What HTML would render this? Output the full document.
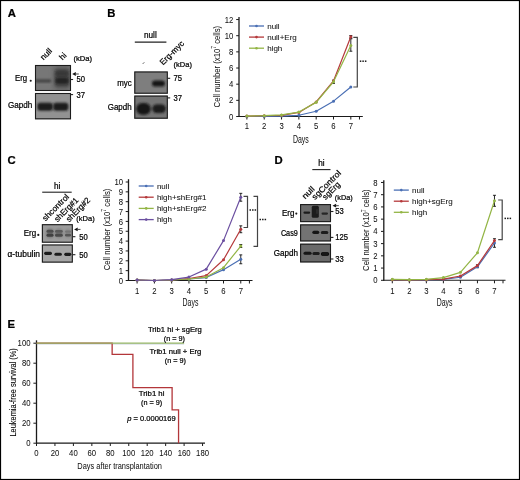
<!DOCTYPE html>
<html><head><meta charset="utf-8"><style>
html,body{margin:0;padding:0;background:#fff;width:520px;height:480px;overflow:hidden}
svg{display:block;font-family:"Liberation Sans", sans-serif;opacity:0.999}
text{stroke:#000;stroke-width:0.22px}
</style></head><body>
<svg width="520" height="480" viewBox="0 0 520 480" font-family='"Liberation Sans", sans-serif'>
<defs><filter id="f50" x="-50%" y="-50%" width="200%" height="200%"><feGaussianBlur stdDeviation="0.5"/></filter><filter id="f55" x="-50%" y="-50%" width="200%" height="200%"><feGaussianBlur stdDeviation="0.55"/></filter><filter id="f60" x="-50%" y="-50%" width="200%" height="200%"><feGaussianBlur stdDeviation="0.6"/></filter><filter id="f70" x="-50%" y="-50%" width="200%" height="200%"><feGaussianBlur stdDeviation="0.7"/></filter><filter id="f80" x="-50%" y="-50%" width="200%" height="200%"><feGaussianBlur stdDeviation="0.8"/></filter><filter id="f90" x="-50%" y="-50%" width="200%" height="200%"><feGaussianBlur stdDeviation="0.9"/></filter><filter id="f100" x="-50%" y="-50%" width="200%" height="200%"><feGaussianBlur stdDeviation="1"/></filter><filter id="f110" x="-50%" y="-50%" width="200%" height="200%"><feGaussianBlur stdDeviation="1.1"/></filter><filter id="f120" x="-50%" y="-50%" width="200%" height="200%"><feGaussianBlur stdDeviation="1.2"/></filter><filter id="f130" x="-50%" y="-50%" width="200%" height="200%"><feGaussianBlur stdDeviation="1.3"/></filter><filter id="f140" x="-50%" y="-50%" width="200%" height="200%"><feGaussianBlur stdDeviation="1.4"/></filter><filter id="f160" x="-50%" y="-50%" width="200%" height="200%"><feGaussianBlur stdDeviation="1.6"/></filter><filter id="f250" x="-50%" y="-50%" width="200%" height="200%"><feGaussianBlur stdDeviation="2.5"/></filter></defs>
<rect x="0" y="0" width="520" height="480" fill="#fff"/>
<rect x="0.5" y="0.5" width="519" height="479" fill="none" stroke="#000" stroke-width="1.2"/>
<text x="7.80" y="17.20" font-size="11.3" text-anchor="start" fill="#000" font-weight="bold">A</text>
<text x="107.30" y="17.10" font-size="11.3" text-anchor="start" fill="#000" font-weight="bold">B</text>
<text x="7.60" y="164.30" font-size="11.3" text-anchor="start" fill="#000" font-weight="bold">C</text>
<text x="274.60" y="163.60" font-size="11.3" text-anchor="start" fill="#000" font-weight="bold">D</text>
<text x="7.60" y="327.90" font-size="11.3" text-anchor="start" fill="#000" font-weight="bold">E</text>
<clipPath id="c1"><rect x="35" y="65" width="36" height="26"/></clipPath>
<rect x="35" y="65" width="36" height="26" fill="#777777"/>
<g clip-path="url(#c1)">
<rect x="35" y="79.2" width="16.50" height="3.20" rx="1.60" fill="#444" filter="url(#f90)"/>
<rect x="54" y="67" width="16.00" height="22.00" rx="3.00" fill="#5a5a5a" filter="url(#f250)"/>
<rect x="55" y="69.5" width="14.00" height="17.00" rx="2.50" fill="#424242" filter="url(#f160)"/>
<rect x="56" y="71.5" width="12.00" height="4.50" rx="2.00" fill="#343434" filter="url(#f140)"/>
<rect x="55.5" y="78.2" width="13.00" height="5.20" rx="2.00" fill="#222" filter="url(#f110)"/>
</g>
<rect x="35.5" y="65.5" width="35" height="25" fill="none" stroke="#1c1c1c" stroke-width="1.1"/>
<clipPath id="c2"><rect x="35" y="93" width="36" height="26.299999999999997"/></clipPath>
<rect x="35" y="93" width="36" height="26.299999999999997" fill="#929292"/>
<g clip-path="url(#c2)">
<rect x="37.4" y="102.8" width="15.40" height="8.00" rx="2.80" fill="#1e1e1e" filter="url(#f80)"/>
<rect x="53.2" y="102.8" width="15.10" height="8.00" rx="2.80" fill="#1e1e1e" filter="url(#f80)"/>
</g>
<rect x="35.5" y="93.5" width="35" height="25.299999999999997" fill="none" stroke="#1c1c1c" stroke-width="1.1"/>
<text x="15.00" y="81.10" font-size="8.2" text-anchor="start" fill="#000" textLength="12.2" lengthAdjust="spacingAndGlyphs">Erg</text>
<circle cx="30.70" cy="80.80" r="1.05" fill="#1a1a1a"/>
<text x="8.00" y="108.20" font-size="8.2" text-anchor="start" fill="#000" textLength="24.3" lengthAdjust="spacingAndGlyphs">Gapdh</text>
<text x="43.50" y="60.60" font-size="8.2" text-anchor="start" fill="#000" transform="rotate(-45 43.50 60.60)">null</text>
<text x="62.60" y="60.40" font-size="8.2" text-anchor="start" fill="#000" transform="rotate(-45 62.60 60.40)">hi</text>
<text x="73.40" y="61.10" font-size="7.9" text-anchor="start" fill="#000" textLength="18.7" lengthAdjust="spacingAndGlyphs">(kDa)</text>
<path d="M72.20,74.00 L75.80,72.10 L75.80,75.90 Z" fill="#111"/>
<line x1="75.20" y1="74.00" x2="78.80" y2="74.00" stroke="#444" stroke-width="1.0"/>
<line x1="70.70" y1="79.50" x2="73.10" y2="79.50" stroke="#222" stroke-width="1.1"/>
<text x="0" y="0" font-size="8.4" fill="#000" transform="translate(76.50 82.45) scale(0.91 1)">50</text>
<line x1="70.70" y1="94.60" x2="73.10" y2="94.60" stroke="#222" stroke-width="1.1"/>
<text x="0" y="0" font-size="8.4" fill="#000" transform="translate(76.50 97.55) scale(0.91 1)">37</text>
<text x="150.40" y="37.70" font-size="8.2" text-anchor="middle" fill="#000">null</text>
<line x1="134.80" y1="42.10" x2="166.40" y2="42.10" stroke="#222" stroke-width="1.1"/>
<line x1="142.80" y1="63.80" x2="144.20" y2="62.40" stroke="#333" stroke-width="0.9"/>
<text x="163.00" y="65.60" font-size="8.2" text-anchor="start" fill="#000" textLength="30.5" lengthAdjust="spacingAndGlyphs" transform="rotate(-45 163.00 65.60)">Erg-myc</text>
<text x="173.60" y="67.00" font-size="7.9" text-anchor="start" fill="#000" textLength="18.4" lengthAdjust="spacingAndGlyphs">(kDa)</text>
<clipPath id="c3"><rect x="134.3" y="71.5" width="33.5" height="22.200000000000003"/></clipPath>
<rect x="134.3" y="71.5" width="33.5" height="22.200000000000003" fill="#7e7e7e"/>
<g clip-path="url(#c3)">
<rect x="152" y="80.4" width="13.00" height="6.20" rx="3.10" fill="#161616" filter="url(#f80)"/>
</g>
<rect x="134.8" y="72.0" width="32.5" height="21.200000000000003" fill="none" stroke="#1c1c1c" stroke-width="1.1"/>
<clipPath id="c4"><rect x="134.3" y="95.6" width="33.5" height="23.10000000000001"/></clipPath>
<rect x="134.3" y="95.6" width="33.5" height="23.10000000000001" fill="#747474"/>
<g clip-path="url(#c4)">
<rect x="136.2" y="102.9" width="14.60" height="11.80" rx="5.90" fill="#161616" filter="url(#f120)"/>
<rect x="152.3" y="104.6" width="13.50" height="8.40" rx="4.20" fill="#1a1a1a" filter="url(#f100)"/>
</g>
<rect x="134.8" y="96.1" width="32.5" height="22.10000000000001" fill="none" stroke="#1c1c1c" stroke-width="1.1"/>
<text x="117.30" y="86.40" font-size="8.2" text-anchor="start" fill="#000" textLength="14.4" lengthAdjust="spacingAndGlyphs">myc</text>
<text x="107.70" y="110.40" font-size="8.2" text-anchor="start" fill="#000" textLength="24.0" lengthAdjust="spacingAndGlyphs">Gapdh</text>
<line x1="167.80" y1="78.30" x2="170.20" y2="78.30" stroke="#222" stroke-width="1.1"/>
<text x="0" y="0" font-size="8.4" fill="#000" transform="translate(173.50 81.25) scale(0.91 1)">75</text>
<line x1="167.80" y1="97.90" x2="170.20" y2="97.90" stroke="#222" stroke-width="1.1"/>
<text x="0" y="0" font-size="8.4" fill="#000" transform="translate(173.50 100.85) scale(0.91 1)">37</text>
<line x1="239.00" y1="16.90" x2="239.00" y2="117.00" stroke="#1a1a1a" stroke-width="1.3"/>
<line x1="238.40" y1="116.50" x2="362.80" y2="116.50" stroke="#1a1a1a" stroke-width="1.1"/>
<line x1="236.20" y1="116.50" x2="239.00" y2="116.50" stroke="#1a1a1a" stroke-width="1"/>
<text x="0" y="0" font-size="9.1" text-anchor="end" fill="#111" style="stroke-width:0.04px" transform="translate(233.30 119.60) scale(0.85 1)">0</text>
<line x1="236.20" y1="100.34" x2="239.00" y2="100.34" stroke="#1a1a1a" stroke-width="1"/>
<text x="0" y="0" font-size="9.1" text-anchor="end" fill="#111" style="stroke-width:0.04px" transform="translate(233.30 103.44) scale(0.85 1)">2</text>
<line x1="236.20" y1="84.18" x2="239.00" y2="84.18" stroke="#1a1a1a" stroke-width="1"/>
<text x="0" y="0" font-size="9.1" text-anchor="end" fill="#111" style="stroke-width:0.04px" transform="translate(233.30 87.28) scale(0.85 1)">4</text>
<line x1="236.20" y1="68.02" x2="239.00" y2="68.02" stroke="#1a1a1a" stroke-width="1"/>
<text x="0" y="0" font-size="9.1" text-anchor="end" fill="#111" style="stroke-width:0.04px" transform="translate(233.30 71.12) scale(0.85 1)">6</text>
<line x1="236.20" y1="51.86" x2="239.00" y2="51.86" stroke="#1a1a1a" stroke-width="1"/>
<text x="0" y="0" font-size="9.1" text-anchor="end" fill="#111" style="stroke-width:0.04px" transform="translate(233.30 54.96) scale(0.85 1)">8</text>
<line x1="236.20" y1="35.70" x2="239.00" y2="35.70" stroke="#1a1a1a" stroke-width="1"/>
<text x="0" y="0" font-size="9.1" text-anchor="end" fill="#111" style="stroke-width:0.04px" transform="translate(233.30 38.80) scale(0.85 1)">10</text>
<line x1="236.20" y1="19.54" x2="239.00" y2="19.54" stroke="#1a1a1a" stroke-width="1"/>
<text x="0" y="0" font-size="9.1" text-anchor="end" fill="#111" style="stroke-width:0.04px" transform="translate(233.30 22.64) scale(0.85 1)">12</text>
<line x1="246.90" y1="116.50" x2="246.90" y2="119.50" stroke="#1a1a1a" stroke-width="1"/>
<text x="0" y="0" font-size="9.1" text-anchor="middle" fill="#111" style="stroke-width:0.04px" transform="translate(246.90 129.30) scale(0.85 1)">1</text>
<line x1="264.22" y1="116.50" x2="264.22" y2="119.50" stroke="#1a1a1a" stroke-width="1"/>
<text x="0" y="0" font-size="9.1" text-anchor="middle" fill="#111" style="stroke-width:0.04px" transform="translate(264.22 129.30) scale(0.85 1)">2</text>
<line x1="281.54" y1="116.50" x2="281.54" y2="119.50" stroke="#1a1a1a" stroke-width="1"/>
<text x="0" y="0" font-size="9.1" text-anchor="middle" fill="#111" style="stroke-width:0.04px" transform="translate(281.54 129.30) scale(0.85 1)">3</text>
<line x1="298.86" y1="116.50" x2="298.86" y2="119.50" stroke="#1a1a1a" stroke-width="1"/>
<text x="0" y="0" font-size="9.1" text-anchor="middle" fill="#111" style="stroke-width:0.04px" transform="translate(298.86 129.30) scale(0.85 1)">4</text>
<line x1="316.18" y1="116.50" x2="316.18" y2="119.50" stroke="#1a1a1a" stroke-width="1"/>
<text x="0" y="0" font-size="9.1" text-anchor="middle" fill="#111" style="stroke-width:0.04px" transform="translate(316.18 129.30) scale(0.85 1)">5</text>
<line x1="333.50" y1="116.50" x2="333.50" y2="119.50" stroke="#1a1a1a" stroke-width="1"/>
<text x="0" y="0" font-size="9.1" text-anchor="middle" fill="#111" style="stroke-width:0.04px" transform="translate(333.50 129.30) scale(0.85 1)">6</text>
<line x1="350.82" y1="116.50" x2="350.82" y2="119.50" stroke="#1a1a1a" stroke-width="1"/>
<text x="0" y="0" font-size="9.1" text-anchor="middle" fill="#111" style="stroke-width:0.04px" transform="translate(350.82 129.30) scale(0.85 1)">7</text>
<line x1="359.48" y1="116.50" x2="359.48" y2="119.50" stroke="#1a1a1a" stroke-width="1"/>
<text x="300.90" y="142.50" font-size="10.2" text-anchor="middle" fill="#111" textLength="15.8" lengthAdjust="spacingAndGlyphs" style="stroke-width:0.03px">Days</text>
<text x="220.10" y="66.60" font-size="9.9" text-anchor="middle" fill="#111" style="stroke-width:0.03px" transform="rotate(-90 220.10 66.60)" textLength="81.6" lengthAdjust="spacingAndGlyphs">Cell number (x10<tspan font-size="6.6" dy="-3.8">7</tspan><tspan dy="3.8"> cells)</tspan></text>
<line x1="350.82" y1="35.54" x2="350.82" y2="37.96" stroke="#111" stroke-width="0.9"/>
<line x1="349.32" y1="35.54" x2="352.32" y2="35.54" stroke="#111" stroke-width="0.9"/>
<line x1="349.32" y1="37.96" x2="352.32" y2="37.96" stroke="#111" stroke-width="0.9"/>
<line x1="350.82" y1="38.77" x2="350.82" y2="51.21" stroke="#111" stroke-width="0.9"/>
<line x1="349.32" y1="38.77" x2="352.32" y2="38.77" stroke="#111" stroke-width="0.9"/>
<line x1="349.32" y1="51.21" x2="352.32" y2="51.21" stroke="#111" stroke-width="0.9"/>
<line x1="333.50" y1="80.14" x2="333.50" y2="83.37" stroke="#111" stroke-width="0.9"/>
<line x1="332.00" y1="80.14" x2="335.00" y2="80.14" stroke="#111" stroke-width="0.9"/>
<line x1="332.00" y1="83.37" x2="335.00" y2="83.37" stroke="#111" stroke-width="0.9"/>
<polyline points="246.90,116.50 264.22,116.50 281.54,116.10 298.86,115.29 316.18,111.25 333.50,101.15 350.82,87.01" fill="none" stroke="#4a6fb4" stroke-width="1.2" stroke-linejoin="round"/>
<circle cx="246.90" cy="116.50" r="1.5" fill="#4a6fb4"/>
<circle cx="264.22" cy="116.50" r="1.5" fill="#4a6fb4"/>
<circle cx="281.54" cy="116.10" r="1.5" fill="#4a6fb4"/>
<circle cx="298.86" cy="115.29" r="1.5" fill="#4a6fb4"/>
<circle cx="316.18" cy="111.25" r="1.5" fill="#4a6fb4"/>
<circle cx="333.50" cy="101.15" r="1.5" fill="#4a6fb4"/>
<circle cx="350.82" cy="87.01" r="1.5" fill="#4a6fb4"/>
<polyline points="246.90,116.10 264.22,115.69 281.54,115.29 298.86,112.46 316.18,101.96 333.50,80.95 350.82,36.75" fill="none" stroke="#b5393b" stroke-width="1.2" stroke-linejoin="round"/>
<circle cx="246.90" cy="116.10" r="1.5" fill="#b5393b"/>
<circle cx="264.22" cy="115.69" r="1.5" fill="#b5393b"/>
<circle cx="281.54" cy="115.29" r="1.5" fill="#b5393b"/>
<circle cx="298.86" cy="112.46" r="1.5" fill="#b5393b"/>
<circle cx="316.18" cy="101.96" r="1.5" fill="#b5393b"/>
<circle cx="333.50" cy="80.95" r="1.5" fill="#b5393b"/>
<circle cx="350.82" cy="36.75" r="1.5" fill="#b5393b"/>
<polyline points="246.90,116.10 264.22,115.69 281.54,114.88 298.86,112.06 316.18,102.36 333.50,81.76 350.82,45.40" fill="none" stroke="#93b545" stroke-width="1.2" stroke-linejoin="round"/>
<circle cx="246.90" cy="116.10" r="1.5" fill="#93b545"/>
<circle cx="264.22" cy="115.69" r="1.5" fill="#93b545"/>
<circle cx="281.54" cy="114.88" r="1.5" fill="#93b545"/>
<circle cx="298.86" cy="112.06" r="1.5" fill="#93b545"/>
<circle cx="316.18" cy="102.36" r="1.5" fill="#93b545"/>
<circle cx="333.50" cy="81.76" r="1.5" fill="#93b545"/>
<circle cx="350.82" cy="45.40" r="1.5" fill="#93b545"/>
<line x1="249.00" y1="26.00" x2="264.00" y2="26.00" stroke="#4a6fb4" stroke-width="1.3"/>
<circle cx="256.50" cy="26.00" r="1.3" fill="#4a6fb4"/>
<text x="267.20" y="28.70" font-size="8" text-anchor="start" fill="#111" style="stroke-width:0.05px">null</text>
<line x1="249.00" y1="37.10" x2="264.00" y2="37.10" stroke="#b5393b" stroke-width="1.3"/>
<circle cx="256.50" cy="37.10" r="1.3" fill="#b5393b"/>
<text x="267.20" y="39.80" font-size="8" text-anchor="start" fill="#111" style="stroke-width:0.05px">null+Erg</text>
<line x1="249.00" y1="48.20" x2="264.00" y2="48.20" stroke="#93b545" stroke-width="1.3"/>
<circle cx="256.50" cy="48.20" r="1.3" fill="#93b545"/>
<text x="267.20" y="50.90" font-size="8" text-anchor="start" fill="#111" style="stroke-width:0.05px">high</text>
<polyline points="353.30,37.40 357.30,37.40 357.30,87.00 353.30,87.00" fill="none" stroke="#444" stroke-width="1.2"/>
<rect x="359.80" y="60.45" width="1.5" height="1.5" fill="#1a1a1a"/>
<rect x="362.35" y="60.45" width="1.5" height="1.5" fill="#1a1a1a"/>
<rect x="364.90" y="60.45" width="1.5" height="1.5" fill="#1a1a1a"/>
<text x="57.20" y="189.40" font-size="8.2" text-anchor="middle" fill="#000">hi</text>
<line x1="42.20" y1="192.20" x2="71.70" y2="192.20" stroke="#222" stroke-width="1.1"/>
<text x="45.50" y="221.40" font-size="8.2" text-anchor="start" fill="#000" textLength="34" lengthAdjust="spacingAndGlyphs" transform="rotate(-45 45.50 221.40)">shcontrol</text>
<text x="57.40" y="222.40" font-size="8.2" text-anchor="start" fill="#000" textLength="30.5" lengthAdjust="spacingAndGlyphs" transform="rotate(-45 57.40 222.40)">shErg#1</text>
<text x="69.20" y="222.40" font-size="8.2" text-anchor="start" fill="#000" textLength="30.5" lengthAdjust="spacingAndGlyphs" transform="rotate(-45 69.20 222.40)">shErg#2</text>
<text x="76.30" y="221.30" font-size="7.9" text-anchor="start" fill="#000" textLength="18.5" lengthAdjust="spacingAndGlyphs">(kDa)</text>
<clipPath id="c5"><rect x="41.9" y="224.2" width="30.9" height="18.5"/></clipPath>
<rect x="41.9" y="224.2" width="30.9" height="18.5" fill="#9c9c9c"/>
<g clip-path="url(#c5)">
<rect x="46" y="228.3" width="8.00" height="10.00" rx="4.00" fill="#7e7e7e" filter="url(#f130)"/>
<rect x="54.5" y="228.3" width="8.80" height="10.00" rx="4.40" fill="#848484" filter="url(#f130)"/>
<rect x="64.5" y="228.8" width="7.00" height="9.50" rx="3.50" fill="#8c8c8c" filter="url(#f130)"/>
<rect x="46.5" y="229.8" width="7.00" height="3.00" rx="1.50" fill="#4e4e4e" filter="url(#f70)"/>
<rect x="46.5" y="233.6" width="7.00" height="3.20" rx="1.60" fill="#404040" filter="url(#f70)"/>
<rect x="55" y="230" width="7.80" height="2.80" rx="1.40" fill="#5a5a5a" filter="url(#f70)"/>
<rect x="55" y="233.6" width="7.80" height="3.20" rx="1.60" fill="#4a4a4a" filter="url(#f70)"/>
<rect x="65" y="230.4" width="6.00" height="2.40" rx="1.20" fill="#757575" filter="url(#f70)"/>
<rect x="65" y="233.8" width="6.00" height="2.80" rx="1.40" fill="#555" filter="url(#f70)"/>
</g>
<rect x="42.4" y="224.7" width="29.9" height="17.5" fill="none" stroke="#1c1c1c" stroke-width="1.1"/>
<clipPath id="c6"><rect x="41.9" y="244.5" width="30.9" height="18.100000000000023"/></clipPath>
<rect x="41.9" y="244.5" width="30.9" height="18.100000000000023" fill="#a6a6a6"/>
<g clip-path="url(#c6)">
<rect x="44.1" y="251.7" width="7.90" height="3.20" rx="1.60" fill="#1a1a1a" filter="url(#f55)"/>
<rect x="54.4" y="252.7" width="7.50" height="3.00" rx="1.50" fill="#1e1e1e" filter="url(#f55)"/>
<rect x="64.2" y="252.7" width="7.10" height="3.20" rx="1.60" fill="#1a1a1a" filter="url(#f55)"/>
</g>
<rect x="42.4" y="245.0" width="29.9" height="17.100000000000023" fill="none" stroke="#1c1c1c" stroke-width="1.1"/>
<text x="23.70" y="236.10" font-size="8.2" text-anchor="start" fill="#000" textLength="12.4" lengthAdjust="spacingAndGlyphs">Erg</text>
<circle cx="38.30" cy="234.90" r="1.1" fill="#1a1a1a"/>
<text x="7.50" y="257.20" font-size="8.2" text-anchor="start" fill="#000" textLength="32.5" lengthAdjust="spacingAndGlyphs">α-tubulin</text>
<path d="M74.10,229.40 L77.70,227.50 L77.70,231.30 Z" fill="#111"/>
<line x1="77.10" y1="229.40" x2="80.50" y2="229.40" stroke="#444" stroke-width="1.0"/>
<line x1="73.00" y1="236.70" x2="75.40" y2="236.70" stroke="#222" stroke-width="1.1"/>
<text x="0" y="0" font-size="8.4" fill="#000" transform="translate(79.30 239.65) scale(0.91 1)">50</text>
<line x1="73.00" y1="254.70" x2="75.40" y2="254.70" stroke="#222" stroke-width="1.1"/>
<text x="0" y="0" font-size="8.4" fill="#000" transform="translate(79.30 257.65) scale(0.91 1)">50</text>
<line x1="128.50" y1="179.20" x2="128.50" y2="281.00" stroke="#1a1a1a" stroke-width="1.3"/>
<line x1="127.90" y1="280.50" x2="252.50" y2="280.50" stroke="#1a1a1a" stroke-width="1.1"/>
<line x1="125.70" y1="280.50" x2="128.50" y2="280.50" stroke="#1a1a1a" stroke-width="1"/>
<text x="0" y="0" font-size="9.1" text-anchor="end" fill="#111" style="stroke-width:0.04px" transform="translate(123.10 283.60) scale(0.85 1)">0</text>
<line x1="125.70" y1="270.65" x2="128.50" y2="270.65" stroke="#1a1a1a" stroke-width="1"/>
<text x="0" y="0" font-size="9.1" text-anchor="end" fill="#111" style="stroke-width:0.04px" transform="translate(123.10 273.75) scale(0.85 1)">1</text>
<line x1="125.70" y1="260.80" x2="128.50" y2="260.80" stroke="#1a1a1a" stroke-width="1"/>
<text x="0" y="0" font-size="9.1" text-anchor="end" fill="#111" style="stroke-width:0.04px" transform="translate(123.10 263.90) scale(0.85 1)">2</text>
<line x1="125.70" y1="250.95" x2="128.50" y2="250.95" stroke="#1a1a1a" stroke-width="1"/>
<text x="0" y="0" font-size="9.1" text-anchor="end" fill="#111" style="stroke-width:0.04px" transform="translate(123.10 254.05) scale(0.85 1)">3</text>
<line x1="125.70" y1="241.10" x2="128.50" y2="241.10" stroke="#1a1a1a" stroke-width="1"/>
<text x="0" y="0" font-size="9.1" text-anchor="end" fill="#111" style="stroke-width:0.04px" transform="translate(123.10 244.20) scale(0.85 1)">4</text>
<line x1="125.70" y1="231.25" x2="128.50" y2="231.25" stroke="#1a1a1a" stroke-width="1"/>
<text x="0" y="0" font-size="9.1" text-anchor="end" fill="#111" style="stroke-width:0.04px" transform="translate(123.10 234.35) scale(0.85 1)">5</text>
<line x1="125.70" y1="221.40" x2="128.50" y2="221.40" stroke="#1a1a1a" stroke-width="1"/>
<text x="0" y="0" font-size="9.1" text-anchor="end" fill="#111" style="stroke-width:0.04px" transform="translate(123.10 224.50) scale(0.85 1)">6</text>
<line x1="125.70" y1="211.55" x2="128.50" y2="211.55" stroke="#1a1a1a" stroke-width="1"/>
<text x="0" y="0" font-size="9.1" text-anchor="end" fill="#111" style="stroke-width:0.04px" transform="translate(123.10 214.65) scale(0.85 1)">7</text>
<line x1="125.70" y1="201.70" x2="128.50" y2="201.70" stroke="#1a1a1a" stroke-width="1"/>
<text x="0" y="0" font-size="9.1" text-anchor="end" fill="#111" style="stroke-width:0.04px" transform="translate(123.10 204.80) scale(0.85 1)">8</text>
<line x1="125.70" y1="191.85" x2="128.50" y2="191.85" stroke="#1a1a1a" stroke-width="1"/>
<text x="0" y="0" font-size="9.1" text-anchor="end" fill="#111" style="stroke-width:0.04px" transform="translate(123.10 194.95) scale(0.85 1)">9</text>
<line x1="125.70" y1="182.00" x2="128.50" y2="182.00" stroke="#1a1a1a" stroke-width="1"/>
<text x="0" y="0" font-size="9.1" text-anchor="end" fill="#111" style="stroke-width:0.04px" transform="translate(123.10 185.10) scale(0.85 1)">10</text>
<line x1="137.10" y1="280.50" x2="137.10" y2="283.50" stroke="#1a1a1a" stroke-width="1"/>
<text x="0" y="0" font-size="9.1" text-anchor="middle" fill="#111" style="stroke-width:0.04px" transform="translate(137.10 293.80) scale(0.85 1)">1</text>
<line x1="154.38" y1="280.50" x2="154.38" y2="283.50" stroke="#1a1a1a" stroke-width="1"/>
<text x="0" y="0" font-size="9.1" text-anchor="middle" fill="#111" style="stroke-width:0.04px" transform="translate(154.38 293.80) scale(0.85 1)">2</text>
<line x1="171.66" y1="280.50" x2="171.66" y2="283.50" stroke="#1a1a1a" stroke-width="1"/>
<text x="0" y="0" font-size="9.1" text-anchor="middle" fill="#111" style="stroke-width:0.04px" transform="translate(171.66 293.80) scale(0.85 1)">3</text>
<line x1="188.94" y1="280.50" x2="188.94" y2="283.50" stroke="#1a1a1a" stroke-width="1"/>
<text x="0" y="0" font-size="9.1" text-anchor="middle" fill="#111" style="stroke-width:0.04px" transform="translate(188.94 293.80) scale(0.85 1)">4</text>
<line x1="206.22" y1="280.50" x2="206.22" y2="283.50" stroke="#1a1a1a" stroke-width="1"/>
<text x="0" y="0" font-size="9.1" text-anchor="middle" fill="#111" style="stroke-width:0.04px" transform="translate(206.22 293.80) scale(0.85 1)">5</text>
<line x1="223.50" y1="280.50" x2="223.50" y2="283.50" stroke="#1a1a1a" stroke-width="1"/>
<text x="0" y="0" font-size="9.1" text-anchor="middle" fill="#111" style="stroke-width:0.04px" transform="translate(223.50 293.80) scale(0.85 1)">6</text>
<line x1="240.78" y1="280.50" x2="240.78" y2="283.50" stroke="#1a1a1a" stroke-width="1"/>
<text x="0" y="0" font-size="9.1" text-anchor="middle" fill="#111" style="stroke-width:0.04px" transform="translate(240.78 293.80) scale(0.85 1)">7</text>
<line x1="249.42" y1="280.50" x2="249.42" y2="283.50" stroke="#1a1a1a" stroke-width="1"/>
<text x="190.50" y="305.60" font-size="10.2" text-anchor="middle" fill="#111" textLength="15.8" lengthAdjust="spacingAndGlyphs" style="stroke-width:0.03px">Days</text>
<text x="109.90" y="229.45" font-size="9.9" text-anchor="middle" fill="#111" style="stroke-width:0.03px" transform="rotate(-90 109.90 229.45)" textLength="81.5" lengthAdjust="spacingAndGlyphs">Cell number (x10<tspan font-size="6.6" dy="-3.8">7</tspan><tspan dy="3.8"> cells)</tspan></text>
<line x1="240.78" y1="193.33" x2="240.78" y2="201.21" stroke="#111" stroke-width="0.9"/>
<line x1="239.28" y1="193.33" x2="242.28" y2="193.33" stroke="#111" stroke-width="0.9"/>
<line x1="239.28" y1="201.21" x2="242.28" y2="201.21" stroke="#111" stroke-width="0.9"/>
<line x1="240.78" y1="225.83" x2="240.78" y2="232.73" stroke="#111" stroke-width="0.9"/>
<line x1="239.28" y1="225.83" x2="242.28" y2="225.83" stroke="#111" stroke-width="0.9"/>
<line x1="239.28" y1="232.73" x2="242.28" y2="232.73" stroke="#111" stroke-width="0.9"/>
<line x1="240.78" y1="244.55" x2="240.78" y2="247.50" stroke="#111" stroke-width="0.9"/>
<line x1="239.28" y1="244.55" x2="242.28" y2="244.55" stroke="#111" stroke-width="0.9"/>
<line x1="239.28" y1="247.50" x2="242.28" y2="247.50" stroke="#111" stroke-width="0.9"/>
<line x1="240.78" y1="254.89" x2="240.78" y2="263.75" stroke="#111" stroke-width="0.9"/>
<line x1="239.28" y1="254.89" x2="242.28" y2="254.89" stroke="#111" stroke-width="0.9"/>
<line x1="239.28" y1="263.75" x2="242.28" y2="263.75" stroke="#111" stroke-width="0.9"/>
<polyline points="137.10,280.01 154.38,280.50 171.66,280.01 188.94,279.02 206.22,277.55 223.50,269.67 240.78,259.32" fill="none" stroke="#4a6fb4" stroke-width="1.2" stroke-linejoin="round"/>
<circle cx="137.10" cy="280.01" r="1.5" fill="#4a6fb4"/>
<circle cx="154.38" cy="280.50" r="1.5" fill="#4a6fb4"/>
<circle cx="171.66" cy="280.01" r="1.5" fill="#4a6fb4"/>
<circle cx="188.94" cy="279.02" r="1.5" fill="#4a6fb4"/>
<circle cx="206.22" cy="277.55" r="1.5" fill="#4a6fb4"/>
<circle cx="223.50" cy="269.67" r="1.5" fill="#4a6fb4"/>
<circle cx="240.78" cy="259.32" r="1.5" fill="#4a6fb4"/>
<polyline points="137.10,280.01 154.38,280.50 171.66,280.01 188.94,278.53 206.22,275.57 223.50,259.81 240.78,229.28" fill="none" stroke="#b5393b" stroke-width="1.2" stroke-linejoin="round"/>
<circle cx="137.10" cy="280.01" r="1.5" fill="#b5393b"/>
<circle cx="154.38" cy="280.50" r="1.5" fill="#b5393b"/>
<circle cx="171.66" cy="280.01" r="1.5" fill="#b5393b"/>
<circle cx="188.94" cy="278.53" r="1.5" fill="#b5393b"/>
<circle cx="206.22" cy="275.57" r="1.5" fill="#b5393b"/>
<circle cx="223.50" cy="259.81" r="1.5" fill="#b5393b"/>
<circle cx="240.78" cy="229.28" r="1.5" fill="#b5393b"/>
<polyline points="137.10,280.01 154.38,280.50 171.66,280.01 188.94,279.02 206.22,277.05 223.50,267.69 240.78,246.03" fill="none" stroke="#93b545" stroke-width="1.2" stroke-linejoin="round"/>
<circle cx="137.10" cy="280.01" r="1.5" fill="#93b545"/>
<circle cx="154.38" cy="280.50" r="1.5" fill="#93b545"/>
<circle cx="171.66" cy="280.01" r="1.5" fill="#93b545"/>
<circle cx="188.94" cy="279.02" r="1.5" fill="#93b545"/>
<circle cx="206.22" cy="277.05" r="1.5" fill="#93b545"/>
<circle cx="223.50" cy="267.69" r="1.5" fill="#93b545"/>
<circle cx="240.78" cy="246.03" r="1.5" fill="#93b545"/>
<polyline points="137.10,280.01 154.38,280.50 171.66,279.71 188.94,277.05 206.22,269.17 223.50,240.61 240.78,197.27" fill="none" stroke="#6b4fa0" stroke-width="1.2" stroke-linejoin="round"/>
<circle cx="137.10" cy="280.01" r="1.5" fill="#6b4fa0"/>
<circle cx="154.38" cy="280.50" r="1.5" fill="#6b4fa0"/>
<circle cx="171.66" cy="279.71" r="1.5" fill="#6b4fa0"/>
<circle cx="188.94" cy="277.05" r="1.5" fill="#6b4fa0"/>
<circle cx="206.22" cy="269.17" r="1.5" fill="#6b4fa0"/>
<circle cx="223.50" cy="240.61" r="1.5" fill="#6b4fa0"/>
<circle cx="240.78" cy="197.27" r="1.5" fill="#6b4fa0"/>
<line x1="138.70" y1="186.00" x2="153.70" y2="186.00" stroke="#4a6fb4" stroke-width="1.3"/>
<circle cx="146.20" cy="186.00" r="1.3" fill="#4a6fb4"/>
<text x="156.90" y="188.70" font-size="8" text-anchor="start" fill="#111" style="stroke-width:0.05px">null</text>
<line x1="138.70" y1="197.20" x2="153.70" y2="197.20" stroke="#b5393b" stroke-width="1.3"/>
<circle cx="146.20" cy="197.20" r="1.3" fill="#b5393b"/>
<text x="156.90" y="199.90" font-size="8" text-anchor="start" fill="#111" style="stroke-width:0.05px">high+shErg#1</text>
<line x1="138.70" y1="208.40" x2="153.70" y2="208.40" stroke="#93b545" stroke-width="1.3"/>
<circle cx="146.20" cy="208.40" r="1.3" fill="#93b545"/>
<text x="156.90" y="211.10" font-size="8" text-anchor="start" fill="#111" style="stroke-width:0.05px">high+shErg#2</text>
<line x1="138.70" y1="219.60" x2="153.70" y2="219.60" stroke="#6b4fa0" stroke-width="1.3"/>
<circle cx="146.20" cy="219.60" r="1.3" fill="#6b4fa0"/>
<text x="156.90" y="222.30" font-size="8" text-anchor="start" fill="#111" style="stroke-width:0.05px">high</text>
<polyline points="243.50,196.30 247.50,196.30 247.50,227.50 243.50,227.50" fill="none" stroke="#444" stroke-width="1.2"/>
<rect x="249.50" y="209.25" width="1.5" height="1.5" fill="#1a1a1a"/>
<rect x="252.05" y="209.25" width="1.5" height="1.5" fill="#1a1a1a"/>
<rect x="254.60" y="209.25" width="1.5" height="1.5" fill="#1a1a1a"/>
<polyline points="253.50,196.30 257.50,196.30 257.50,246.30 253.50,246.30" fill="none" stroke="#444" stroke-width="1.2"/>
<rect x="259.50" y="218.75" width="1.5" height="1.5" fill="#1a1a1a"/>
<rect x="262.05" y="218.75" width="1.5" height="1.5" fill="#1a1a1a"/>
<rect x="264.60" y="218.75" width="1.5" height="1.5" fill="#1a1a1a"/>
<text x="321.50" y="165.80" font-size="8.2" text-anchor="middle" fill="#000">hi</text>
<line x1="312.30" y1="169.60" x2="330.50" y2="169.60" stroke="#222" stroke-width="1.1"/>
<text x="305.20" y="199.60" font-size="8.2" text-anchor="start" fill="#000" textLength="14.2" lengthAdjust="spacingAndGlyphs" transform="rotate(-45 305.20 199.60)">null</text>
<text x="315.10" y="200.20" font-size="8.2" text-anchor="start" fill="#000" textLength="37.5" lengthAdjust="spacingAndGlyphs" transform="rotate(-45 315.10 200.20)">sgControl</text>
<text x="325.50" y="200.20" font-size="8.2" text-anchor="start" fill="#000" textLength="21.5" lengthAdjust="spacingAndGlyphs" transform="rotate(-45 325.50 200.20)">sgErg</text>
<text x="334.80" y="199.70" font-size="7.9" text-anchor="start" fill="#000" textLength="17.9" lengthAdjust="spacingAndGlyphs">(kDa)</text>
<clipPath id="c7"><rect x="300.1" y="204.1" width="30.899999999999977" height="18.0"/></clipPath>
<rect x="300.1" y="204.1" width="30.899999999999977" height="18.0" fill="#6c6c6c"/>
<g clip-path="url(#c7)">
<rect x="303.5" y="211.4" width="6.70" height="2.40" rx="1.20" fill="#1e1e1e" filter="url(#f50)"/>
<rect x="311.8" y="205.8" width="7.00" height="12.00" rx="1.50" fill="#1c1c1c" filter="url(#f50)"/>
<rect x="316" y="209" width="2.50" height="5.00" rx="1.25" fill="#2a2a2a" filter="url(#f60)"/>
<rect x="321.5" y="212.5" width="6.50" height="2.20" rx="1.10" fill="#262626" filter="url(#f50)"/>
</g>
<rect x="300.6" y="204.6" width="29.899999999999977" height="17.0" fill="none" stroke="#1c1c1c" stroke-width="1.1"/>
<clipPath id="c8"><rect x="300.1" y="224.4" width="30.899999999999977" height="17.0"/></clipPath>
<rect x="300.1" y="224.4" width="30.899999999999977" height="17.0" fill="#737373"/>
<g clip-path="url(#c8)">
<rect x="312.3" y="230.8" width="7.00" height="3.10" rx="1.55" fill="#161616" filter="url(#f55)"/>
<rect x="320.8" y="231.1" width="7.50" height="3.00" rx="1.50" fill="#1c1c1c" filter="url(#f55)"/>
</g>
<rect x="300.6" y="224.9" width="29.899999999999977" height="16.0" fill="none" stroke="#1c1c1c" stroke-width="1.1"/>
<clipPath id="c9"><rect x="300.1" y="243.7" width="30.899999999999977" height="18.69999999999999"/></clipPath>
<rect x="300.1" y="243.7" width="30.899999999999977" height="18.69999999999999" fill="#6a6a6a"/>
<g clip-path="url(#c9)">
<rect x="303.5" y="251.7" width="8.10" height="3.00" rx="1.50" fill="#161616" filter="url(#f55)"/>
<rect x="312.5" y="252" width="7.20" height="3.00" rx="1.50" fill="#1a1a1a" filter="url(#f55)"/>
<rect x="320.8" y="251.9" width="8.40" height="4.20" rx="2.10" fill="#121212" filter="url(#f60)"/>
</g>
<rect x="300.6" y="244.2" width="29.899999999999977" height="17.69999999999999" fill="none" stroke="#1c1c1c" stroke-width="1.1"/>
<text x="281.90" y="215.60" font-size="8.2" text-anchor="start" fill="#000" textLength="12.5" lengthAdjust="spacingAndGlyphs">Erg</text>
<circle cx="296.30" cy="213.60" r="1.05" fill="#1a1a1a"/>
<text x="280.90" y="236.40" font-size="8.2" text-anchor="start" fill="#000" textLength="16.9" lengthAdjust="spacingAndGlyphs">Cas9</text>
<text x="273.80" y="255.90" font-size="8.2" text-anchor="start" fill="#000" textLength="24.3" lengthAdjust="spacingAndGlyphs">Gapdh</text>
<path d="M332.50,205.70 L336.10,203.80 L336.10,207.60 Z" fill="#111"/>
<line x1="335.50" y1="205.70" x2="338.80" y2="205.70" stroke="#444" stroke-width="1.0"/>
<line x1="331.00" y1="211.50" x2="333.40" y2="211.50" stroke="#222" stroke-width="1.1"/>
<text x="0" y="0" font-size="8.4" fill="#000" transform="translate(335.20 214.45) scale(0.91 1)">53</text>
<line x1="331.00" y1="237.40" x2="333.40" y2="237.40" stroke="#222" stroke-width="1.1"/>
<text x="0" y="0" font-size="8.4" fill="#000" transform="translate(335.20 240.35) scale(0.91 1)">125</text>
<line x1="331.00" y1="259.00" x2="333.40" y2="259.00" stroke="#222" stroke-width="1.1"/>
<text x="0" y="0" font-size="8.4" fill="#000" transform="translate(335.20 261.95) scale(0.91 1)">33</text>
<line x1="383.80" y1="180.20" x2="383.80" y2="280.80" stroke="#1a1a1a" stroke-width="1.3"/>
<line x1="383.20" y1="280.30" x2="505.50" y2="280.30" stroke="#1a1a1a" stroke-width="1.1"/>
<line x1="381.00" y1="280.30" x2="383.80" y2="280.30" stroke="#1a1a1a" stroke-width="1"/>
<text x="0" y="0" font-size="9.1" text-anchor="end" fill="#111" style="stroke-width:0.04px" transform="translate(377.60 283.40) scale(0.85 1)">0</text>
<line x1="381.00" y1="268.07" x2="383.80" y2="268.07" stroke="#1a1a1a" stroke-width="1"/>
<text x="0" y="0" font-size="9.1" text-anchor="end" fill="#111" style="stroke-width:0.04px" transform="translate(377.60 271.17) scale(0.85 1)">1</text>
<line x1="381.00" y1="255.84" x2="383.80" y2="255.84" stroke="#1a1a1a" stroke-width="1"/>
<text x="0" y="0" font-size="9.1" text-anchor="end" fill="#111" style="stroke-width:0.04px" transform="translate(377.60 258.94) scale(0.85 1)">2</text>
<line x1="381.00" y1="243.61" x2="383.80" y2="243.61" stroke="#1a1a1a" stroke-width="1"/>
<text x="0" y="0" font-size="9.1" text-anchor="end" fill="#111" style="stroke-width:0.04px" transform="translate(377.60 246.71) scale(0.85 1)">3</text>
<line x1="381.00" y1="231.38" x2="383.80" y2="231.38" stroke="#1a1a1a" stroke-width="1"/>
<text x="0" y="0" font-size="9.1" text-anchor="end" fill="#111" style="stroke-width:0.04px" transform="translate(377.60 234.48) scale(0.85 1)">4</text>
<line x1="381.00" y1="219.15" x2="383.80" y2="219.15" stroke="#1a1a1a" stroke-width="1"/>
<text x="0" y="0" font-size="9.1" text-anchor="end" fill="#111" style="stroke-width:0.04px" transform="translate(377.60 222.25) scale(0.85 1)">5</text>
<line x1="381.00" y1="206.92" x2="383.80" y2="206.92" stroke="#1a1a1a" stroke-width="1"/>
<text x="0" y="0" font-size="9.1" text-anchor="end" fill="#111" style="stroke-width:0.04px" transform="translate(377.60 210.02) scale(0.85 1)">6</text>
<line x1="381.00" y1="194.69" x2="383.80" y2="194.69" stroke="#1a1a1a" stroke-width="1"/>
<text x="0" y="0" font-size="9.1" text-anchor="end" fill="#111" style="stroke-width:0.04px" transform="translate(377.60 197.79) scale(0.85 1)">7</text>
<line x1="381.00" y1="182.46" x2="383.80" y2="182.46" stroke="#1a1a1a" stroke-width="1"/>
<text x="0" y="0" font-size="9.1" text-anchor="end" fill="#111" style="stroke-width:0.04px" transform="translate(377.60 185.56) scale(0.85 1)">8</text>
<line x1="392.30" y1="280.30" x2="392.30" y2="283.30" stroke="#1a1a1a" stroke-width="1"/>
<text x="0" y="0" font-size="9.1" text-anchor="middle" fill="#111" style="stroke-width:0.04px" transform="translate(392.30 293.60) scale(0.85 1)">1</text>
<line x1="409.33" y1="280.30" x2="409.33" y2="283.30" stroke="#1a1a1a" stroke-width="1"/>
<text x="0" y="0" font-size="9.1" text-anchor="middle" fill="#111" style="stroke-width:0.04px" transform="translate(409.33 293.60) scale(0.85 1)">2</text>
<line x1="426.36" y1="280.30" x2="426.36" y2="283.30" stroke="#1a1a1a" stroke-width="1"/>
<text x="0" y="0" font-size="9.1" text-anchor="middle" fill="#111" style="stroke-width:0.04px" transform="translate(426.36 293.60) scale(0.85 1)">3</text>
<line x1="443.39" y1="280.30" x2="443.39" y2="283.30" stroke="#1a1a1a" stroke-width="1"/>
<text x="0" y="0" font-size="9.1" text-anchor="middle" fill="#111" style="stroke-width:0.04px" transform="translate(443.39 293.60) scale(0.85 1)">4</text>
<line x1="460.42" y1="280.30" x2="460.42" y2="283.30" stroke="#1a1a1a" stroke-width="1"/>
<text x="0" y="0" font-size="9.1" text-anchor="middle" fill="#111" style="stroke-width:0.04px" transform="translate(460.42 293.60) scale(0.85 1)">5</text>
<line x1="477.45" y1="280.30" x2="477.45" y2="283.30" stroke="#1a1a1a" stroke-width="1"/>
<text x="0" y="0" font-size="9.1" text-anchor="middle" fill="#111" style="stroke-width:0.04px" transform="translate(477.45 293.60) scale(0.85 1)">6</text>
<line x1="494.48" y1="280.30" x2="494.48" y2="283.30" stroke="#1a1a1a" stroke-width="1"/>
<text x="0" y="0" font-size="9.1" text-anchor="middle" fill="#111" style="stroke-width:0.04px" transform="translate(494.48 293.60) scale(0.85 1)">7</text>
<line x1="503.00" y1="280.30" x2="503.00" y2="283.30" stroke="#1a1a1a" stroke-width="1"/>
<text x="444.65" y="306.30" font-size="10.2" text-anchor="middle" fill="#111" textLength="15.8" lengthAdjust="spacingAndGlyphs" style="stroke-width:0.03px">Days</text>
<text x="369.40" y="230.10" font-size="9.9" text-anchor="middle" fill="#111" style="stroke-width:0.03px" transform="rotate(-90 369.40 230.10)" textLength="81.6" lengthAdjust="spacingAndGlyphs">Cell number (x10<tspan font-size="6.6" dy="-3.8">7</tspan><tspan dy="3.8"> cells)</tspan></text>
<line x1="494.48" y1="195.30" x2="494.48" y2="206.31" stroke="#111" stroke-width="0.9"/>
<line x1="492.98" y1="195.30" x2="495.98" y2="195.30" stroke="#111" stroke-width="0.9"/>
<line x1="492.98" y1="206.31" x2="495.98" y2="206.31" stroke="#111" stroke-width="0.9"/>
<line x1="494.48" y1="238.72" x2="494.48" y2="247.28" stroke="#111" stroke-width="0.9"/>
<line x1="492.98" y1="238.72" x2="495.98" y2="238.72" stroke="#111" stroke-width="0.9"/>
<line x1="492.98" y1="247.28" x2="495.98" y2="247.28" stroke="#111" stroke-width="0.9"/>
<line x1="477.45" y1="264.77" x2="477.45" y2="267.70" stroke="#111" stroke-width="0.9"/>
<line x1="475.95" y1="264.77" x2="478.95" y2="264.77" stroke="#111" stroke-width="0.9"/>
<line x1="475.95" y1="267.70" x2="478.95" y2="267.70" stroke="#111" stroke-width="0.9"/>
<polyline points="392.30,279.69 409.33,279.93 426.36,279.93 443.39,279.32 460.42,277.24 477.45,266.85 494.48,243.00" fill="none" stroke="#4a6fb4" stroke-width="1.2" stroke-linejoin="round"/>
<circle cx="392.30" cy="279.69" r="1.5" fill="#4a6fb4"/>
<circle cx="409.33" cy="279.93" r="1.5" fill="#4a6fb4"/>
<circle cx="426.36" cy="279.93" r="1.5" fill="#4a6fb4"/>
<circle cx="443.39" cy="279.32" r="1.5" fill="#4a6fb4"/>
<circle cx="460.42" cy="277.24" r="1.5" fill="#4a6fb4"/>
<circle cx="477.45" cy="266.85" r="1.5" fill="#4a6fb4"/>
<circle cx="494.48" cy="243.00" r="1.5" fill="#4a6fb4"/>
<polyline points="392.30,279.69 409.33,279.93 426.36,279.69 443.39,279.08 460.42,276.02 477.45,265.62 494.48,240.55" fill="none" stroke="#b5393b" stroke-width="1.2" stroke-linejoin="round"/>
<circle cx="392.30" cy="279.69" r="1.5" fill="#b5393b"/>
<circle cx="409.33" cy="279.93" r="1.5" fill="#b5393b"/>
<circle cx="426.36" cy="279.69" r="1.5" fill="#b5393b"/>
<circle cx="443.39" cy="279.08" r="1.5" fill="#b5393b"/>
<circle cx="460.42" cy="276.02" r="1.5" fill="#b5393b"/>
<circle cx="477.45" cy="265.62" r="1.5" fill="#b5393b"/>
<circle cx="494.48" cy="240.55" r="1.5" fill="#b5393b"/>
<polyline points="392.30,279.32 409.33,279.69 426.36,279.32 443.39,277.61 460.42,272.35 477.45,252.78 494.48,200.81" fill="none" stroke="#93b545" stroke-width="1.2" stroke-linejoin="round"/>
<circle cx="392.30" cy="279.32" r="1.5" fill="#93b545"/>
<circle cx="409.33" cy="279.69" r="1.5" fill="#93b545"/>
<circle cx="426.36" cy="279.32" r="1.5" fill="#93b545"/>
<circle cx="443.39" cy="277.61" r="1.5" fill="#93b545"/>
<circle cx="460.42" cy="272.35" r="1.5" fill="#93b545"/>
<circle cx="477.45" cy="252.78" r="1.5" fill="#93b545"/>
<circle cx="494.48" cy="200.81" r="1.5" fill="#93b545"/>
<line x1="393.80" y1="190.10" x2="408.80" y2="190.10" stroke="#4a6fb4" stroke-width="1.3"/>
<circle cx="401.30" cy="190.10" r="1.3" fill="#4a6fb4"/>
<text x="412.00" y="192.80" font-size="8" text-anchor="start" fill="#111" style="stroke-width:0.05px">null</text>
<line x1="393.80" y1="201.20" x2="408.80" y2="201.20" stroke="#b5393b" stroke-width="1.3"/>
<circle cx="401.30" cy="201.20" r="1.3" fill="#b5393b"/>
<text x="412.00" y="203.90" font-size="8" text-anchor="start" fill="#111" style="stroke-width:0.05px">high+sgErg</text>
<line x1="393.80" y1="212.30" x2="408.80" y2="212.30" stroke="#93b545" stroke-width="1.3"/>
<circle cx="401.30" cy="212.30" r="1.3" fill="#93b545"/>
<text x="412.00" y="215.00" font-size="8" text-anchor="start" fill="#111" style="stroke-width:0.05px">high</text>
<polyline points="498.20,200.00 502.20,200.00 502.20,239.70 498.20,239.70" fill="none" stroke="#444" stroke-width="1.2"/>
<rect x="504.50" y="217.65" width="1.5" height="1.5" fill="#1a1a1a"/>
<rect x="507.05" y="217.65" width="1.5" height="1.5" fill="#1a1a1a"/>
<rect x="509.60" y="217.65" width="1.5" height="1.5" fill="#1a1a1a"/>
<line x1="36.50" y1="340.30" x2="36.50" y2="443.70" stroke="#1a1a1a" stroke-width="1.3"/>
<line x1="36.00" y1="443.20" x2="205.00" y2="443.20" stroke="#1a1a1a" stroke-width="1.3"/>
<line x1="33.40" y1="443.20" x2="36.50" y2="443.20" stroke="#1a1a1a" stroke-width="1"/>
<text x="0" y="0" font-size="9.1" text-anchor="end" fill="#111" style="stroke-width:0.04px" transform="translate(30.50 446.30) scale(0.85 1)">0</text>
<line x1="33.40" y1="423.20" x2="36.50" y2="423.20" stroke="#1a1a1a" stroke-width="1"/>
<text x="0" y="0" font-size="9.1" text-anchor="end" fill="#111" style="stroke-width:0.04px" transform="translate(30.50 426.30) scale(0.85 1)">20</text>
<line x1="33.40" y1="403.20" x2="36.50" y2="403.20" stroke="#1a1a1a" stroke-width="1"/>
<text x="0" y="0" font-size="9.1" text-anchor="end" fill="#111" style="stroke-width:0.04px" transform="translate(30.50 406.30) scale(0.85 1)">40</text>
<line x1="33.40" y1="383.20" x2="36.50" y2="383.20" stroke="#1a1a1a" stroke-width="1"/>
<text x="0" y="0" font-size="9.1" text-anchor="end" fill="#111" style="stroke-width:0.04px" transform="translate(30.50 386.30) scale(0.85 1)">60</text>
<line x1="33.40" y1="363.20" x2="36.50" y2="363.20" stroke="#1a1a1a" stroke-width="1"/>
<text x="0" y="0" font-size="9.1" text-anchor="end" fill="#111" style="stroke-width:0.04px" transform="translate(30.50 366.30) scale(0.85 1)">80</text>
<line x1="33.40" y1="343.20" x2="36.50" y2="343.20" stroke="#1a1a1a" stroke-width="1"/>
<text x="0" y="0" font-size="9.1" text-anchor="end" fill="#111" style="stroke-width:0.04px" transform="translate(30.50 346.30) scale(0.85 1)">100</text>
<line x1="36.50" y1="443.20" x2="36.50" y2="446.00" stroke="#1a1a1a" stroke-width="1"/>
<text x="0" y="0" font-size="9.1" text-anchor="middle" fill="#111" style="stroke-width:0.04px" transform="translate(36.50 456.40) scale(0.85 1)">0</text>
<line x1="54.95" y1="443.20" x2="54.95" y2="446.00" stroke="#1a1a1a" stroke-width="1"/>
<text x="0" y="0" font-size="9.1" text-anchor="middle" fill="#111" style="stroke-width:0.04px" transform="translate(54.95 456.40) scale(0.85 1)">20</text>
<line x1="73.40" y1="443.20" x2="73.40" y2="446.00" stroke="#1a1a1a" stroke-width="1"/>
<text x="0" y="0" font-size="9.1" text-anchor="middle" fill="#111" style="stroke-width:0.04px" transform="translate(73.40 456.40) scale(0.85 1)">40</text>
<line x1="91.85" y1="443.20" x2="91.85" y2="446.00" stroke="#1a1a1a" stroke-width="1"/>
<text x="0" y="0" font-size="9.1" text-anchor="middle" fill="#111" style="stroke-width:0.04px" transform="translate(91.85 456.40) scale(0.85 1)">60</text>
<line x1="110.30" y1="443.20" x2="110.30" y2="446.00" stroke="#1a1a1a" stroke-width="1"/>
<text x="0" y="0" font-size="9.1" text-anchor="middle" fill="#111" style="stroke-width:0.04px" transform="translate(110.30 456.40) scale(0.85 1)">80</text>
<line x1="128.75" y1="443.20" x2="128.75" y2="446.00" stroke="#1a1a1a" stroke-width="1"/>
<text x="0" y="0" font-size="9.1" text-anchor="middle" fill="#111" style="stroke-width:0.04px" transform="translate(128.75 456.40) scale(0.85 1)">100</text>
<line x1="147.20" y1="443.20" x2="147.20" y2="446.00" stroke="#1a1a1a" stroke-width="1"/>
<text x="0" y="0" font-size="9.1" text-anchor="middle" fill="#111" style="stroke-width:0.04px" transform="translate(147.20 456.40) scale(0.85 1)">120</text>
<line x1="165.65" y1="443.20" x2="165.65" y2="446.00" stroke="#1a1a1a" stroke-width="1"/>
<text x="0" y="0" font-size="9.1" text-anchor="middle" fill="#111" style="stroke-width:0.04px" transform="translate(165.65 456.40) scale(0.85 1)">140</text>
<line x1="184.10" y1="443.20" x2="184.10" y2="446.00" stroke="#1a1a1a" stroke-width="1"/>
<text x="0" y="0" font-size="9.1" text-anchor="middle" fill="#111" style="stroke-width:0.04px" transform="translate(184.10 456.40) scale(0.85 1)">160</text>
<line x1="202.55" y1="443.20" x2="202.55" y2="446.00" stroke="#1a1a1a" stroke-width="1"/>
<text x="0" y="0" font-size="9.1" text-anchor="middle" fill="#111" style="stroke-width:0.04px" transform="translate(202.55 456.40) scale(0.85 1)">180</text>
<text x="119.60" y="469.00" font-size="9.3" text-anchor="middle" fill="#111" textLength="84.6" lengthAdjust="spacingAndGlyphs" style="stroke-width:0.02px">Days after transplantation</text>
<text x="16.5" y="392.6" font-size="9.6" text-anchor="middle" fill="#000" style="stroke-width:0.08px" transform="rotate(-90 16.3 392.6)" textLength="88.4" lengthAdjust="spacingAndGlyphs">Leukemia-free survival (%)</text>
<line x1="36.50" y1="343.90" x2="184.10" y2="343.90" stroke="#8a9cb4" stroke-width="0.6"/>
<polyline points="36.50,343.20 112.14,343.20 112.14,354.30 132.90,354.30 132.90,387.60 172.11,387.60 172.11,409.90 178.56,409.90 178.56,443.20" fill="none" stroke="#b3363a" stroke-width="1.3"/>
<line x1="36.50" y1="343.10" x2="184.10" y2="343.10" stroke="#98b867" stroke-width="1.4"/>
<text x="174.90" y="331.90" font-size="7.9" text-anchor="middle" fill="#000" textLength="53.9" lengthAdjust="spacingAndGlyphs">Trib1 hi + sgErg</text>
<text x="174.40" y="340.50" font-size="7.9" text-anchor="middle" fill="#000" textLength="21.2" lengthAdjust="spacingAndGlyphs">(n = 9)</text>
<text x="175.40" y="354.10" font-size="7.9" text-anchor="middle" fill="#000" textLength="51.9" lengthAdjust="spacingAndGlyphs">Trib1 null + Erg</text>
<text x="175.40" y="362.80" font-size="7.9" text-anchor="middle" fill="#000" textLength="21.2" lengthAdjust="spacingAndGlyphs">(n = 9)</text>
<text x="151.60" y="395.80" font-size="7.9" text-anchor="middle" fill="#000" textLength="25.7" lengthAdjust="spacingAndGlyphs">Trib1 hi</text>
<text x="151.70" y="405.40" font-size="7.9" text-anchor="middle" fill="#000" textLength="21.2" lengthAdjust="spacingAndGlyphs">(n = 9)</text>
<text x="127.2" y="420.5" font-size="7.9" fill="#000" textLength="48.5" lengthAdjust="spacingAndGlyphs"><tspan font-style="italic">p</tspan> = 0.0000169</text>
</svg>
</body></html>
